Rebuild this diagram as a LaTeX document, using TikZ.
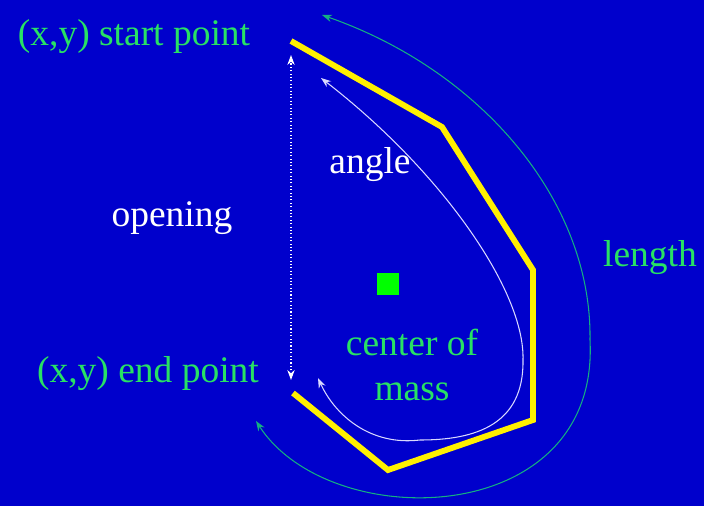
\documentclass[tikz,border=0pt]{standalone}
\usepackage{fontspec}
\setmainfont{Liberation Serif}
\usetikzlibrary{arrows.meta}

\definecolor{slideblue}{RGB}{0,0,204}
\definecolor{labelgreen}{RGB}{40,225,100}
\definecolor{lengthline}{RGB}{20,175,130}
\definecolor{outlineyellow}{RGB}{255,240,0}

\begin{document}
\begin{tikzpicture}[
    x=0.03cm, y=-0.03cm,
    lbl/.style={font=\fontsize{32}{38}\selectfont, inner sep=0pt, align=center},
    outline/.style={draw=outlineyellow, line width=5pt, line join=miter},
    meas/.style={{Stealth[length=3mm,width=2.2mm]}-{Stealth[length=3mm,width=2.2mm]}, line width=0.9pt}
]
\useasboundingbox (0,0) rectangle (704,506);
\fill[slideblue] (0,0) rectangle (704,506);
% contour
\coordinate (p1) at (291,41);
\coordinate (p2) at (442,127);
\coordinate (p3) at (533,270);
\coordinate (p4) at (533,420);
\coordinate (p5) at (388,470);
\coordinate (p6) at (293,393);
\draw[outline] (p1) -- (p2) -- (p3) -- (p4) -- (p5) -- (p6);
% labels
\node[lbl, text=labelgreen] (start) at (134,37) {(x,y) start point};
\node[lbl, text=labelgreen] (end) at (148,374) {(x,y) end point};
\node[lbl, text=white] (opening) at (172,218) {opening};
\node[lbl, text=white] (angle) at (370,165) {angle};
\node[lbl, text=labelgreen] (length) at (650,258) {length};
\node[lbl, text=labelgreen] (com) at (412,365) {center of\\mass};
\node[fill=green, minimum size=0.66cm, inner sep=0pt] (center) at (388,284) {};
% opening
\coordinate (openA) at (291,55);
\coordinate (openB) at (291,380);
\draw[meas, white, dotted] (openB) -- (openA);
% angle
\coordinate (angA) at (321,78);
\coordinate (angM) at (523,360);
\coordinate (angN) at (420,440);
\coordinate (angB) at (318,378);
\draw[meas, white!85!blue] (angA) .. controls (440,170) and (525,290) .. (angM)
    .. controls (524,425) and (475,440) .. (angN)
    .. controls (370,446) and (335,415) .. (angB);
% length
\coordinate (lenA) at (256,421);
\coordinate (lenM) at (590,340);
\coordinate (lenB) at (322,15);
\draw[meas, lengthline] (lenA) .. controls (330,535) and (600,530) .. (lenM)
    .. controls (592,200) and (480,70) .. (lenB);
\end{tikzpicture}
\end{document}
